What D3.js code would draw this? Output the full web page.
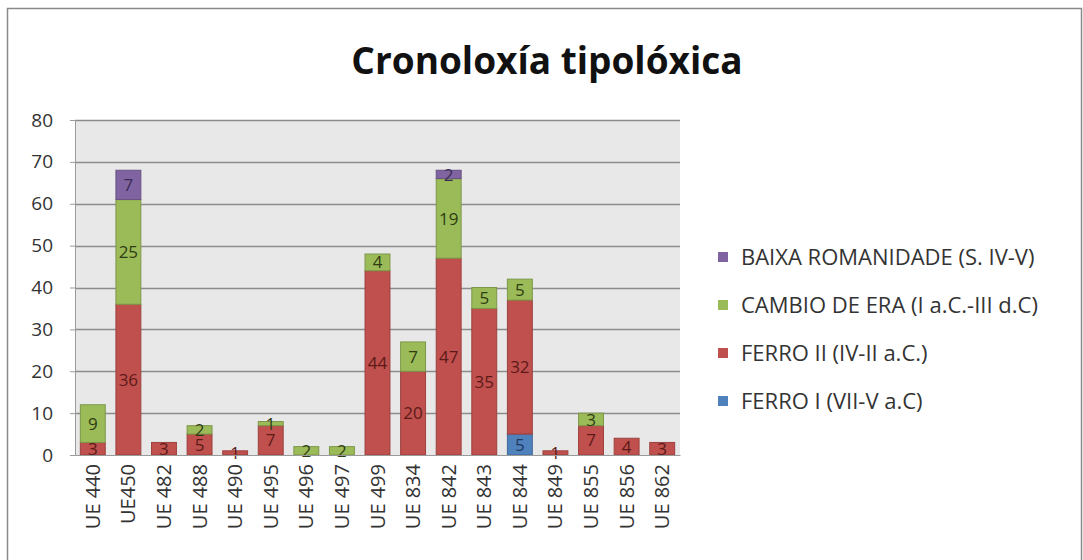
<!DOCTYPE html>
<html lang="gl">
<head>
<meta charset="utf-8">
<title>Cronoloxía tipolóxica</title>
<script src="https://cdn.jsdelivr.net/npm/d3@7"></script>
<style>
  body { margin: 0; background: #fff; }
  svg text { font-family: 'Open Sans', 'Noto Sans', sans-serif; }
</style>
</head>
<body>
<svg></svg>
<script>
    // data
    const categories = ['UE 440', 'UE450', 'UE 482', 'UE 488', 'UE 490', 'UE 495', 'UE 496', 'UE 497',
        'UE 499', 'UE 834', 'UE 842', 'UE 843', 'UE 844', 'UE 849', 'UE 855', 'UE 856', 'UE 862'];
    const ferroI    = [0, 0, 0, 0, 0, 0, 0, 0, 0, 0, 0, 0, 5, 0, 0, 0, 0];
    const ferroII   = [3, 36, 3, 5, 1, 7, 0, 0, 44, 20, 47, 35, 32, 1, 7, 4, 3];
    const cambio    = [9, 25, 0, 2, 0, 1, 2, 2, 4, 7, 19, 5, 5, 0, 3, 0, 0];
    const baixa     = [0, 7, 0, 0, 0, 0, 0, 0, 0, 0, 2, 0, 0, 0, 0, 0, 0];
    const seriesNames = ['FERRO I (VII-V a.C)', 'FERRO II (IV-II a.C.)', 'CAMBIO DE ERA (I a.C.-III d.C)', 'BAIXA ROMANIDADE (S. IV-V)'];
    const yTicks = [0, 10, 20, 30, 40, 50, 60, 70, 80];

    const colors = ['#4f81bd', '#c0504d', '#9bbb59', '#8064a2'];
    const labelColors = ['#1f3a5f', '#5c1a18', '#2f3d12', '#3a2a55'];

    const W = 1083, H = 560;
    const plot = { left: 75, right: 680, top: 120, bottom: 455 };

    const svg = d3.select('svg').attr('width', W).attr('height', H);

    // chart frame
    svg.append('rect')
        .attr('x', 7.5).attr('y', 8.5)
        .attr('width', 1074).attr('height', 570)
        .attr('fill', '#fff')
        .attr('stroke', '#8a8a8a')
        .attr('stroke-width', 1.5);

    // title
    svg.append('text')
        .attr('x', 547).attr('y', 74)
        .attr('text-anchor', 'middle')
        .style('font-size', '37px')
        .style('font-weight', 'bold')
        .attr('fill', '#111')
        .text('Cronoloxía tipolóxica');

    const x = d3.scaleBand()
        .domain(categories)
        .range([plot.left, plot.right])
        .paddingInner(0.3)
        .paddingOuter(0.15);

    const y = d3.scaleLinear()
        .domain([0, 80])
        .range([plot.bottom, plot.top]);

    // plot background
    svg.append('rect')
        .attr('x', plot.left).attr('y', plot.top)
        .attr('width', plot.right - plot.left)
        .attr('height', plot.bottom - plot.top)
        .attr('fill', '#e8e8e8');

    // gridlines
    svg.append('g')
        .selectAll('line')
        .data(yTicks.filter(d => d > 0))
        .enter()
        .append('line')
        .attr('x1', plot.left).attr('x2', plot.right)
        .attr('y1', d => Math.round(y(d)) + 0.5)
        .attr('y2', d => Math.round(y(d)) + 0.5)
        .attr('stroke', '#8c8c8c')
        .attr('stroke-width', 1.5);

    // y axis
    const yAxis = svg.append('g')
        .attr('transform', `translate(${plot.left},0)`)
        .call(d3.axisLeft(y).tickValues(yTicks).tickSize(5).tickPadding(17));
    yAxis.select('.domain').attr('stroke', '#9a9a9a');
    yAxis.selectAll('.tick line').attr('stroke', '#9a9a9a');
    yAxis.selectAll('text')
        .style('font-size', '19px')
        .attr('fill', '#333');

    // stacked bars
    const rows = categories.map((c, i) => ({ cat: c, s0: ferroI[i], s1: ferroII[i], s2: cambio[i], s3: baixa[i] }));
    const stack = d3.stack().keys(['s0', 's1', 's2', 's3'])(rows);

    const layers = svg.append('g')
        .selectAll('g')
        .data(stack)
        .enter()
        .append('g');

    layers.selectAll('rect')
        .data((d, k) => d.map(p => ({ p: p, k: k })))
        .enter()
        .filter(d => d.p[1] - d.p[0] > 0)
        .append('rect')
        .attr('x', d => x(d.p.data.cat))
        .attr('width', x.bandwidth())
        .attr('y', d => y(d.p[1]))
        .attr('height', d => y(d.p[0]) - y(d.p[1]))
        .attr('fill', d => colors[d.k])
        .attr('stroke', d => d3.color(colors[d.k]).darker(0.6))
        .attr('stroke-width', 1);

    // value labels (small segments overlap as in the original)
    layers.selectAll('text')
        .data((d, k) => d.map(p => ({ p: p, k: k })))
        .enter()
        .filter(d => d.p[1] - d.p[0] > 0)
        .append('text')
        .attr('x', d => x(d.p.data.cat) + x.bandwidth() / 2)
        .attr('y', d => (y(d.p[0]) + y(d.p[1])) / 2)
        .attr('dy', '0.36em')
        .attr('text-anchor', 'middle')
        .style('font-size', '17px')
        .attr('fill', d => labelColors[d.k])
        .text(d => d.p[1] - d.p[0]);

    // x axis labels
    const xAxis = svg.append('g')
        .attr('transform', `translate(0,${plot.bottom})`)
        .call(d3.axisBottom(x).tickSize(0).tickPadding(0));
    xAxis.select('.domain').attr('stroke', '#9a9a9a');
    xAxis.selectAll('text')
        .style('font-size', '20px')
        .attr('fill', '#333')
        .attr('text-anchor', 'end')
        .attr('transform', 'rotate(-90)')
        .attr('x', -9)
        .attr('y', 0)
        .attr('dy', '0.35em');

    // legend (top to bottom: last series first)
    const legendOrder = [3, 2, 1, 0];
    const legend = svg.append('g')
        .selectAll('g')
        .data(legendOrder)
        .enter()
        .append('g')
        .attr('transform', (d, i) => `translate(718,${257 + i * 48})`);

    legend.append('rect')
        .attr('x', 0).attr('y', -5)
        .attr('width', 10).attr('height', 10)
        .attr('fill', d => colors[d]);

    legend.append('text')
        .attr('x', 23).attr('y', 0)
        .attr('dy', '0.35em')
        .style('font-size', '22px')
        .attr('fill', '#333')
        .text(d => seriesNames[d]);
</script>
</body>
</html>
